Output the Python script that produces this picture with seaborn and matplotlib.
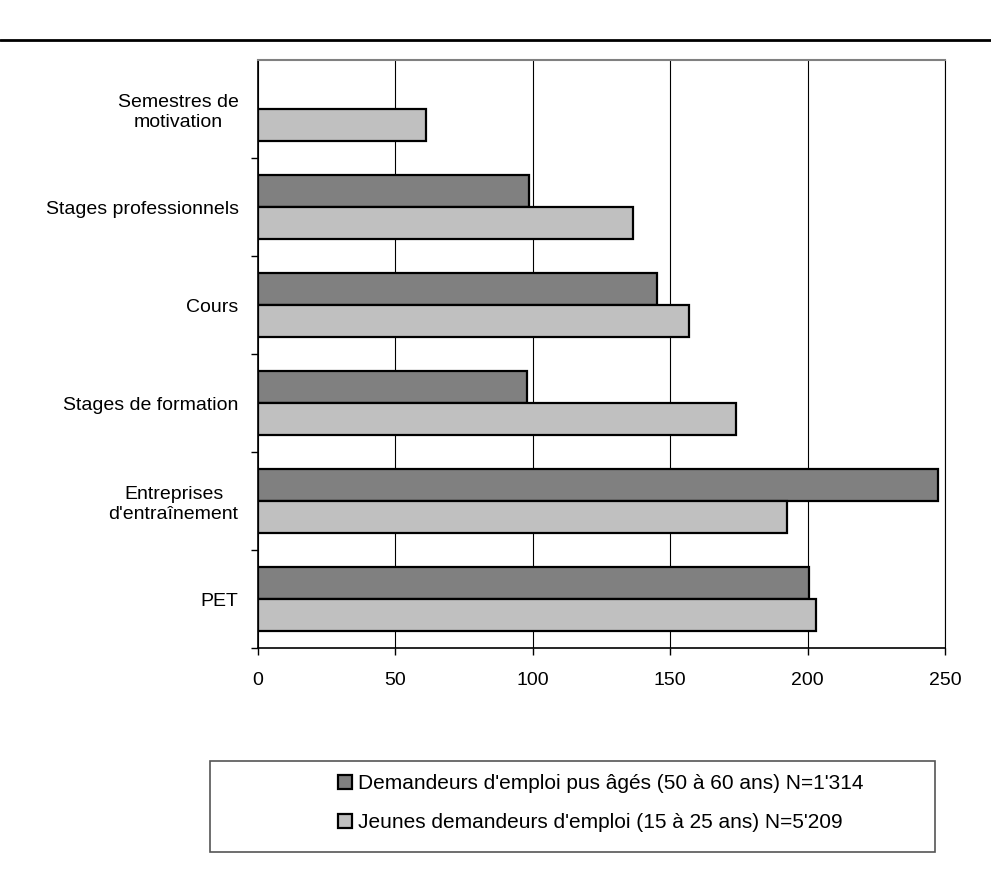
import numpy as np
import pandas as pd
import matplotlib
matplotlib.use("Agg")
import matplotlib.pyplot as plt
from matplotlib.lines import Line2D
from matplotlib.patches import Rectangle
import seaborn as sns

# data
categories = ["Semestres de\nmotivation", "Stages professionnels", "Cours",
              "Stages de formation", "Entreprises\nd'entraînement", "PET"]
older = [np.nan, 98.7, 145.3, 97.9, 247.3, 200.6]
young = [61, 136.6, 157, 174, 192.6, 202.9]
series = ["Demandeurs d'emploi pus âgés (50 à 60 ans) N=1'314",
          "Jeunes demandeurs d'emploi (15 à 25 ans) N=5'209"]
xticks = [0, 50, 100, 150, 200, 250]

df = pd.DataFrame({
    "cat": categories * 2,
    "val": older + young,
    "grp": [series[0]] * len(categories) + [series[1]] * len(categories),
})

sns.set_style("white")
plt.rcParams["font.family"] = ["Liberation Sans", "DejaVu Sans"]
plt.rcParams["text.color"] = "black"
plt.rcParams["xtick.color"] = "black"
plt.rcParams["ytick.color"] = "black"
plt.rcParams["xtick.labelcolor"] = "black"
plt.rcParams["ytick.labelcolor"] = "black"

fig = plt.figure(figsize=(9.91, 8.69), dpi=100)
ax = fig.add_axes([258 / 991, 1 - 648 / 869, 687 / 991, 588 / 869])

sns.barplot(data=df, y="cat", x="val", hue="grp", order=categories,
            hue_order=series, palette=["#808080", "#c0c0c0"], orient="h",
            width=0.65, gap=0, edgecolor="black", linewidth=1.6,
            errorbar=None, ax=ax, legend=True)

ax.set_xlim(0, 250)
ax.set_ylim(5.5, -0.5)
ax.set_xticks(xticks)
ax.set_xlabel("")
ax.set_ylabel("")
ax.grid(axis="x", color="black", linewidth=0.8)
ax.set_axisbelow(True)

ax.tick_params(axis="x", labelsize=14, length=5, width=1, color="black",
               pad=12, direction="out", bottom=True)
ax.tick_params(axis="y", which="major", labelsize=14, length=0, pad=14)
ax.set_yticks(np.arange(0.5, 6, 1), minor=True)
ax.tick_params(axis="y", which="minor", length=5, width=1, color="black",
               direction="out", left=True)
for lab in ax.get_yticklabels():
    lab.set_multialignment("center")

for side in ["left", "bottom"]:
    ax.spines[side].set_color("black")
    ax.spines[side].set_linewidth(1.2)
ax.spines["right"].set_color("black")
ax.spines["right"].set_linewidth(0.8)
ax.spines["top"].set_color("#808080")
ax.spines["top"].set_linewidth(1.5)

# legend below the chart in its own frame
handles, labels = ax.get_legend_handles_labels()
ax.get_legend().remove()
fig.legend(handles, labels, loc="upper left",
           bbox_to_anchor=(330 / 991, 1 - 766 / 869), frameon=False,
           fontsize=15, handlelength=0.65, handleheight=0.65,
           handletextpad=0.3, labelspacing=0.95, borderaxespad=0)
fig.add_artist(Rectangle((210 / 991, 1 - 852 / 869), 725 / 991, 91 / 869,
                         transform=fig.transFigure, fill=False,
                         edgecolor="#555555", linewidth=1.2))

# page rule at the top
fig.add_artist(Line2D([0, 1], [1 - 40 / 869, 1 - 40 / 869],
                      transform=fig.transFigure, color="black", linewidth=2))

fig.savefig("out.png", dpi=100)
